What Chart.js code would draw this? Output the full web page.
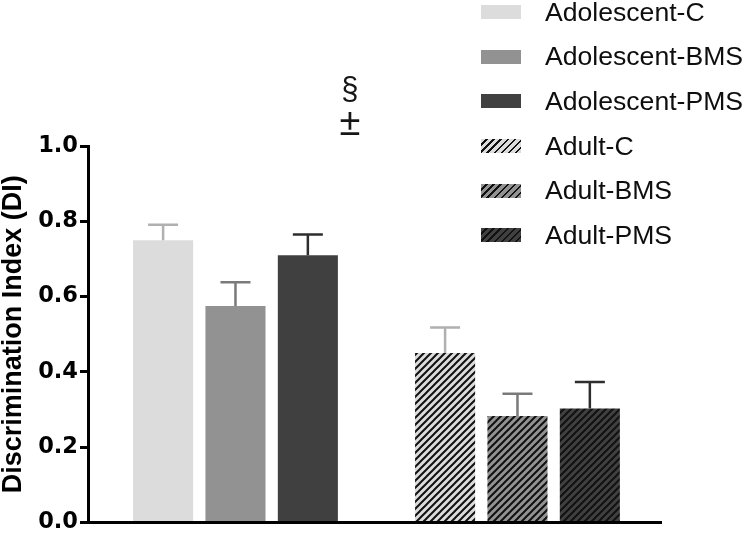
<!DOCTYPE html>
<html>
<head>
<meta charset="utf-8">
<script src="https://cdn.jsdelivr.net/npm/chart.js@4.4.1/dist/chart.umd.min.js"></script>
<style>
    html, body { margin: 0; padding: 0; background: #fff; }
    #wrap { position: relative; width: 748px; height: 538px; overflow: hidden; }
    #legend { position: absolute; left: 481px; top: -10px; font-family: "Liberation Sans", Arial, sans-serif; font-size: 26.6px; color: #0e0e0e; }
    .row { display: flex; align-items: center; height: 44.6px; }
    .swatch { width: 40px; height: 14px; margin-right: 24px; }
</style>
</head>
<body>
<div id="wrap">
    <canvas id="chart" width="748" height="538"></canvas>
    <div id="legend"></div>
</div>
<script>
// 群とシリーズ
const groups = ['Adolescent', 'Adult'];
const seriesNames = ['Adolescent-C', 'Adolescent-BMS', 'Adolescent-PMS', 'Adult-C', 'Adult-BMS', 'Adult-PMS'];
// 平均値と誤差 (SEM)
const adolescentMeans = [0.750, 0.575, 0.710];
const adolescentErrors = [0.041, 0.063, 0.055];
const adultMeans = [0.450, 0.283, 0.303];
const adultErrors = [0.068, 0.059, 0.070];
const yTicks = [0.0, 0.2, 0.4, 0.6, 0.8, 1.0];
const markSymbols = ['§', '±'];

const fillColors = ['#dcdcdc', '#929292', '#404040'];
const errorColors = ['#b0b0b0', '#7a7a7a', '#2e2e2e'];

/**
 * 斜線パターンを作成
 */
function makeHatch(bg) {
    const size = 7;
    const c = document.createElement('canvas');
    c.width = size;
    c.height = size;
    const g = c.getContext('2d');
    g.fillStyle = bg;
    g.fillRect(0, 0, size, size);
    g.strokeStyle = '#111';
    g.lineWidth = 2;
    g.beginPath();
    g.moveTo(-1, size + 1); g.lineTo(size + 1, -1);
    g.moveTo(-1, 1); g.lineTo(1, -1);
    g.moveTo(size - 1, size + 1); g.lineTo(size + 1, size - 1);
    g.stroke();
    return g.createPattern(c, 'repeat');
}

const datasets = [];
seriesNames.forEach((name, i) => {
    const adult = i >= 3;
    const k = i % 3;
    const value = adult ? adultMeans[k] : adolescentMeans[k];
    const err = adult ? adultErrors[k] : adolescentErrors[k];
    datasets.push({
        label: name,
        data: adult ? [null, value] : [value, null],
        errors: adult ? [null, err] : [err, null],
        backgroundColor: adult ? makeHatch(fillColors[k]) : fillColors[k],
        errorColor: errorColors[k],
        borderWidth: 0,
        categoryPercentage: 0.77,
        barPercentage: 0.83
    });
});

// 凡例 (HTML)
const legendEl = document.getElementById('legend');
seriesNames.forEach((name, i) => {
    const k = i % 3;
    const row = document.createElement('div');
    row.className = 'row';
    const sw = document.createElement('span');
    sw.className = 'swatch';
    if (i >= 3) {
        sw.style.background = `repeating-linear-gradient(135deg, ${fillColors[k]} 0px, ${fillColors[k]} 3.4px, #111 3.4px, #111 5px)`;
    } else {
        sw.style.background = fillColors[k];
    }
    const tx = document.createElement('span');
    tx.textContent = name;
    row.appendChild(sw);
    row.appendChild(tx);
    legendEl.appendChild(row);
});

// 誤差棒
const errorBars = {
    id: 'errorBars',
    afterDatasetsDraw(chart) {
        const ctx = chart.ctx;
        const y = chart.scales.y;
        chart.data.datasets.forEach((ds, i) => {
            const meta = chart.getDatasetMeta(i);
            meta.data.forEach((bar, j) => {
                const v = ds.data[j];
                if (v === null) return;
                const top = y.getPixelForValue(v + ds.errors[j]);
                ctx.save();
                ctx.strokeStyle = ds.errorColor;
                ctx.lineWidth = 2.5;
                ctx.beginPath();
                ctx.moveTo(bar.x, bar.y);
                ctx.lineTo(bar.x, top);
                ctx.moveTo(bar.x - 15, top);
                ctx.lineTo(bar.x + 15, top);
                ctx.stroke();
                ctx.restore();
            });
        });
    }
};

// 有意差の記号
const sigMarks = {
    id: 'sigMarks',
    afterDraw(chart) {
        const ctx = chart.ctx;
        const y = chart.scales.y;
        const bar = chart.getDatasetMeta(2).data[0];
        const x = bar.x + 42;
        ctx.save();
        ctx.fillStyle = '#161616';
        ctx.textAlign = 'center';
        ctx.textBaseline = 'middle';
        ctx.font = '31px "Liberation Sans", Arial';
        ctx.fillText(markSymbols[0], x, y.getPixelForValue(1.148));
        ctx.font = '38px "Liberation Sans", Arial';
        ctx.fillText(markSymbols[1], x, y.getPixelForValue(1.058));
        ctx.restore();
    }
};

new Chart(document.getElementById('chart').getContext('2d'), {
    type: 'bar',
    data: {
        labels: groups,
        datasets: datasets
    },
    plugins: [errorBars, sigMarks],
    options: {
        responsive: false,
        animation: false,
        skipNull: true,
        layout: {
            padding: { top: 146, right: 87, bottom: 14, left: 0 }
        },
        plugins: {
            legend: { display: false },
            tooltip: { enabled: false }
        },
        scales: {
            x: {
                // 左の群を少し右へ寄せる (元図の非対称な余白)
                afterBuildTicks(scale) {
                    if (typeof scale._startValue === 'number') {
                        scale._startValue = -0.523;
                        scale._valueRange = 2.032;
                    }
                },
                ticks: { display: false },
                grid: { display: false, drawTicks: false },
                border: { color: '#000', width: 3 }
            },
            y: {
                min: 0,
                max: 1,
                afterFit(scale) {
                    scale.width = 88;
                },
                afterBuildTicks(scale) {
                    scale.ticks = yTicks.map(v => ({ value: v }));
                },
                ticks: {
                    color: '#000',
                    padding: 2,
                    font: { family: '"DejaVu Sans"', size: 22.5, weight: 'bold' },
                    callback: v => v.toFixed(1)
                },
                grid: {
                    drawOnChartArea: false,
                    drawTicks: true,
                    tickLength: 8,
                    color: '#000',
                    lineWidth: 3
                },
                border: { color: '#000', width: 3 },
                title: {
                    display: true,
                    text: 'Discrimination Index (DI)',
                    color: '#000',
                    padding: 0,
                    font: { family: '"Liberation Sans", Arial', size: 27, weight: 'bold', lineHeight: 1 }
                }
            }
        }
    }
});
</script>
</body>
</html>
